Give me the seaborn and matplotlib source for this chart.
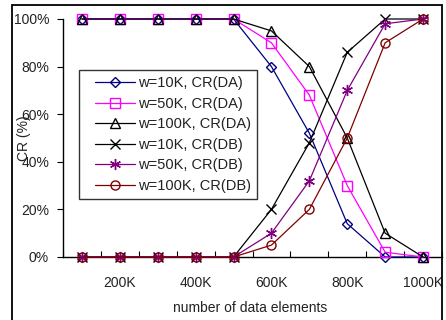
import matplotlib
matplotlib.use("Agg")
import matplotlib.pyplot as plt
from matplotlib.patches import Rectangle
from matplotlib.lines import Line2D
from matplotlib.legend_handler import HandlerLine2D
import seaborn as sns

# number of data elements (thousands)
elements_k = [100, 200, 300, 400, 500, 600, 700, 800, 900, 1000]

# CR (%) per window size and scheme
cr_da_10k = [100, 100, 100, 100, 100, 80, 52, 14, 0, 0]
cr_da_50k = [100, 100, 100, 100, 100, 90, 68, 30, 2, 0]
cr_da_100k = [100, 100, 100, 100, 100, 95, 80, 50, 10, 0]
cr_db_10k = [0, 0, 0, 0, 0, 20, 48, 86, 100, 100]
cr_db_50k = [0, 0, 0, 0, 0, 10, 32, 70, 98, 100]
cr_db_100k = [0, 0, 0, 0, 0, 5, 20, 50, 90, 100]

series_labels = ["w=10K, CR(DA)", "w=50K, CR(DA)", "w=100K, CR(DA)",
                 "w=10K, CR(DB)", "w=50K, CR(DB)", "w=100K, CR(DB)"]
y_ticks = [0, 20, 40, 60, 80, 100]
x_label_ticks = [200, 400, 600, 800, 1000]

sns.set_theme(style="white")
plt.rcParams["font.family"] = ["Liberation Sans", "DejaVu Sans"]
plt.rcParams["font.size"] = 10

fig = plt.figure(figsize=(4.46, 3.2), dpi=100)
ax = fig.add_axes([63 / 446, 1 - 257 / 320, (442 - 63) / 446, (257 - 19) / 320])

styles = [
    ("#000080", "D", 5.0),
    ("#FF00FF", "s", 6.5),
    ("#000000", "^", 7.5),
    ("#000000", "x", 7.0),
    ("#800080", (6, 2, 0), 8.0),
    ("#800000", "o", 6.5),
]
all_series = [cr_da_10k, cr_da_50k, cr_da_100k, cr_db_10k, cr_db_50k, cr_db_100k]

for vals, lab, (col, mk, ms) in zip(all_series, series_labels, styles):
    sns.lineplot(x=elements_k, y=vals, ax=ax, color=col, marker=mk,
                 markersize=ms, markerfacecolor="none", markeredgecolor=col,
                 markeredgewidth=1.0, linewidth=0.9, label=lab,
                 clip_on=False, zorder=3, legend=False)

ax.set_xlim(50, 1050)
ax.set_ylim(0, 100)

# category boundaries as inward ticks, labels at every other category
ax.set_xticks(list(range(50, 1051, 100)))
ax.set_xticklabels([""] * 11)
ax.set_xticks(x_label_ticks, minor=True)
ax.set_xticklabels([f"{v}K" for v in x_label_ticks], minor=True)
ax.tick_params(axis="x", which="major", direction="in", length=4, width=0.8,
               color="black", bottom=True)
ax.tick_params(axis="x", which="minor", length=0, pad=14, labelsize=10,
               labelcolor="#222222")

ax.set_yticks(y_ticks)
ax.set_yticklabels([f"{v}%" for v in y_ticks])
ax.tick_params(axis="y", direction="out", length=4, width=0.8, color="black",
               left=True, pad=6, labelsize=10, labelcolor="#222222")

for side in ("top", "right"):
    ax.spines[side].set_visible(False)
for side in ("left", "bottom"):
    ax.spines[side].set_color("black")
    ax.spines[side].set_linewidth(1.0)

ax.set_xlabel("number of data elements", fontsize=10, color="#222222")
ax.xaxis.set_label_coords(0.493, -0.185)
ax.set_ylabel("CR (%)", fontsize=10, color="#222222")
ax.yaxis.set_label_coords(-0.085, 0.5)

handles, labels = ax.get_legend_handles_labels()
leg = ax.legend(handles, labels, loc="upper left", bbox_to_anchor=(0.042, 0.786),
                borderaxespad=0, frameon=True, fancybox=False, shadow=False,
                handlelength=3.45, handletextpad=0.15, labelspacing=0.45,
                borderpad=0.42, fontsize=10.5,
                handler_map={Line2D: HandlerLine2D(xpad=0.7)})
leg.get_frame().set_edgecolor("black")
leg.get_frame().set_linewidth(1.0)
for t in leg.get_texts():
    t.set_color("#222222")

# outer frame around the chart
fig.add_artist(Rectangle((12 / 446, -0.1), 430 / 446, (1 - 5 / 320) + 0.1,
                         transform=fig.transFigure, fill=False,
                         edgecolor="black", linewidth=1.3))

fig.savefig("out.png", dpi=100)
